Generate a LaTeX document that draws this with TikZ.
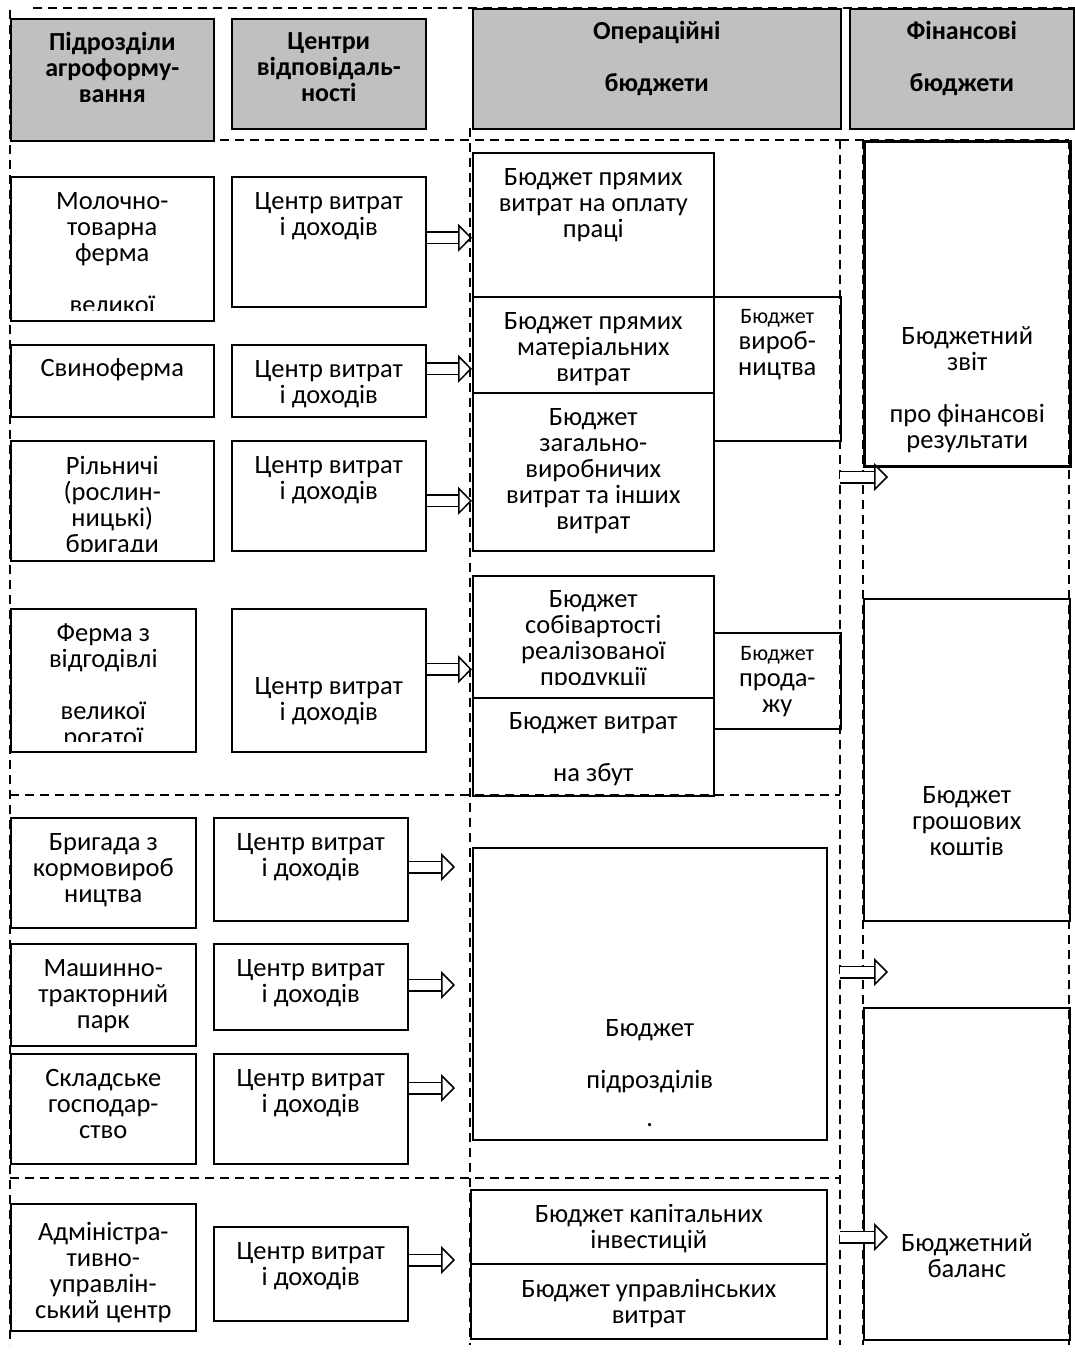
\documentclass[tikz,border=0pt]{standalone}
\usepackage{fontspec}
\setmainfont{Carlito}
\usepackage{xcolor}
\usetikzlibrary{positioning, arrows.meta}
\definecolor{headgray}{RGB}{192,192,192}

\begin{document}
\begin{tikzpicture}[x=1pt, y=-1pt,
    box/.style={draw, line width=1.6pt, inner sep=0pt, anchor=north west},
    head/.style={box, fill=headgray},
    txt/.style={align=center, inner sep=0pt, anchor=north,
      font=\fontsize{26.5}{26}\selectfont, execute at begin node=\strut},
    hdtxt/.style={txt, font=\fontsize{26}{26}\selectfont\bfseries},
    divider/.style={line width=1.2pt, dash pattern=on 9pt off 6pt},
    flow/.style={double, double distance=10pt, line width=1.5pt,
      -{Triangle[open, length=14pt, width=28pt]}}]
    \useasboundingbox (0,0) rectangle (1075,1354);

    % dashed frame
    \draw[divider] (33,8) -- (1075,8);
    \draw[divider] (10,10) -- (10,1345);
    \draw[divider] (470,128) -- (470,1345);
    \foreach \y in {140,795,1178} {
      \draw[divider] (10,\y) -- (840,\y);
    }
    \draw[divider] (840,140) -- (1069,140);
    \foreach \x in {840,863,1069} {
      \draw[divider] (\x,140) -- (\x,1345);
    }

    % headers
    \node[head, minimum width=203pt, minimum height=122pt] (hunits) at (10,18) {};
    \node[hdtxt, below=14pt of hunits.north] (hunitst) {Підрозділи\\агроформу-\\вання};
    \node[head, minimum width=194pt, minimum height=110pt] (hcentres) at (231,18) {};
    \node[hdtxt, below=14pt of hcentres.north] (hcentrest) {Центри\\відповідаль-\\ності};
    \node[head, minimum width=368pt, minimum height=120pt] (hops) at (472,8) {};
    \node[hdtxt, below=13pt of hops.north] (hopst) {Операційні\\[26pt]бюджети};
    \node[head, minimum width=224pt, minimum height=120pt] (hfin) at (849,8) {};
    \node[hdtxt, below=13pt of hfin.north] (hfint) {Фінансові\\[26pt]бюджети};

    % units
    \node[box, minimum width=203pt, minimum height=144pt] (u1) at (10,176) {};
    \begin{scope}
      \clip (u1.north west) rectangle ([yshift=11pt]u1.south east);
      \node[txt, below=16pt of u1.north] (u1t) {Молочно-\\товарна\\ферма\\[26pt]великої};
    \end{scope}
    \node[box, minimum width=203pt, minimum height=72pt] (u2) at (10,344) {};
    \node[txt, below=14pt of u2.north] (u2t) {Свиноферма};
    \node[box, minimum width=203pt, minimum height=120pt] (u3) at (10,440) {};
    \begin{scope}
      \clip (u3.north west) rectangle ([yshift=10pt]u3.south east);
      \node[txt, below=16pt of u3.north] (u3t) {Рільничі\\(рослин-\\ницькі)\\бригади};
    \end{scope}
    \node[box, minimum width=185pt, minimum height=143pt] (u4) at (10,608) {};
    \begin{scope}
      \clip (u4.north west) rectangle ([yshift=11pt]u4.south east);
      \node[txt, below=16pt of u4.north] (u4t) {Ферма з\\відгодівлі\\[26pt]великої\\рогатої};
    \end{scope}
    \node[box, minimum width=185pt, minimum height=110pt] (u5) at (10,817) {};
    \node[txt, below=16pt of u5.north] (u5t) {Бригада з\\кормовироб\\ництва};
    \node[box, minimum width=185pt, minimum height=102pt] (u6) at (10,943) {};
    \node[txt, below=16pt of u6.north] (u6t) {Машинно-\\тракторний\\парк};
    \node[box, minimum width=185pt, minimum height=110pt] (u7) at (10,1053) {};
    \node[txt, below=16pt of u7.north] (u7t) {Складське\\господар-\\ство};
    \node[box, minimum width=185pt, minimum height=127pt] (u8) at (10,1203) {};
    \node[txt, below=19pt of u8.north] (u8t) {Адміністра-\\тивно-\\управлін-\\ський центр};

    % responsibility centres
    \foreach \n/\x/\y/\h/\d in {c1/231/176/130/16, c2/231/344/72/16,
        c3/231/440/110/16, c4/231/608/143/69, c5/213/817/103/16,
        c6/213/943/86/16, c7/213/1053/110/16, c8/213/1226/94/16} {
      \node[box, minimum width=194pt, minimum height=\h pt] (\n) at (\x,\y) {};
      \node[txt, below=\d pt of \n.north] (\n t) {Центр витрат\\і доходів};
    }

    % operating budgets
    \node[box, minimum width=241pt, minimum height=144pt] (opA) at (472,152) {};
    \node[txt, below=16pt of opA.north] (opAt) {Бюджет прямих\\витрат на оплату\\праці};
    \node[box, minimum width=241pt, minimum height=96pt] (opB) at (472,296) {};
    \node[txt, below=16pt of opB.north] (opBt) {Бюджет прямих\\матеріальних\\витрат};
    \node[box, minimum width=241pt, minimum height=158pt] (opC) at (472,392) {};
    \node[txt, below=16pt of opC.north] (opCt) {Бюджет\\загально-\\виробничих\\витрат та інших\\витрат};
    \node[box, minimum width=127pt, minimum height=144pt] (opD) at (713,296) {};
    \node[txt, below=13pt of opD.north] (opDt) {{\fontsize{22}{26}\selectfont Бюджет}\\вироб-\\ництва};
    \node[box, minimum width=241pt, minimum height=122pt] (opE) at (472,575) {};
    \begin{scope}
      \clip (opE.north west) rectangle ([yshift=14pt]opE.south east);
      \node[txt, below=15pt of opE.north] (opEt) {Бюджет\\собівартості\\реалізованої\\продукції};
    \end{scope}
    \node[box, minimum width=241pt, minimum height=98pt] (opF) at (472,697) {};
    \node[txt, below=15pt of opF.north] (opFt) {Бюджет витрат\\[26pt]на збут};
    \node[box, minimum width=127pt, minimum height=96pt] (opG) at (713,632) {};
    \node[txt, below=14pt of opG.north] (opGt) {{\fontsize{22}{26}\selectfont Бюджет}\\прода-\\жу};
    \node[box, minimum width=354pt, minimum height=292pt] (opH) at (472,847) {};
    \node[txt, below=172pt of opH.north] (opHt) {Бюджет\\[26pt]підрозділів\\[12pt].};
    \node[box, minimum width=356pt, minimum height=74pt] (opI) at (470,1189) {};
    \node[txt, below=15pt of opI.north] (opIt) {Бюджет капітальних\\інвестицій};
    \node[box, minimum width=356pt, minimum height=75pt] (opJ) at (470,1263) {};
    \node[txt, below=16pt of opJ.north] (opJt) {Бюджет управлінських\\витрат};

    % financial budgets
    \node[box, line width=2.5pt, minimum width=206pt, minimum height=325pt] (fA) at (863,140) {};
    \node[txt, below=186pt of fA.north] (fAt) {Бюджетний\\звіт\\[26pt]про фінансові\\результати};
    \node[box, minimum width=206pt, minimum height=322pt] (fB) at (863,598) {};
    \node[txt, below=188pt of fB.north] (fBt) {Бюджет\\грошових\\коштів};
    \node[box, minimum width=206pt, minimum height=332pt] (fC) at (863,1007) {};
    \node[txt, below=226pt of fC.north] (fCt) {Бюджетний\\баланс};

    % arrows
    \draw[flow] ([yshift=4pt]c1.east) -- ([yshift=4pt]c1.east -| opA.west);
    \draw[flow] ([yshift=12pt]c2.east) -- ([yshift=12pt]c2.east -| opB.west);
    \draw[flow] ([yshift=-5pt]c3.east) -- ([yshift=-5pt]c3.east -| opC.west);
    \draw[flow] ([yshift=11pt]c4.east) -- ([yshift=11pt]c4.east -| opE.west);
    \coordinate (e5) at (455,867);
    \coordinate (e6) at (455,985);
    \coordinate (e7) at (455,1088);
    \coordinate (e8) at (455,1260);
    \foreach \n in {5,6,7,8} {
      \draw[flow] (c\n.east |- e\n) -- (e\n);
    }
    \foreach \n/\y in {A/477, B/972, C/1237} {
      \coordinate (s\n) at (840,\y);
      \coordinate (t\n) at (888,\y);
      \draw[flow] (s\n) -- (t\n);
    }
\end{tikzpicture}
\end{document}
